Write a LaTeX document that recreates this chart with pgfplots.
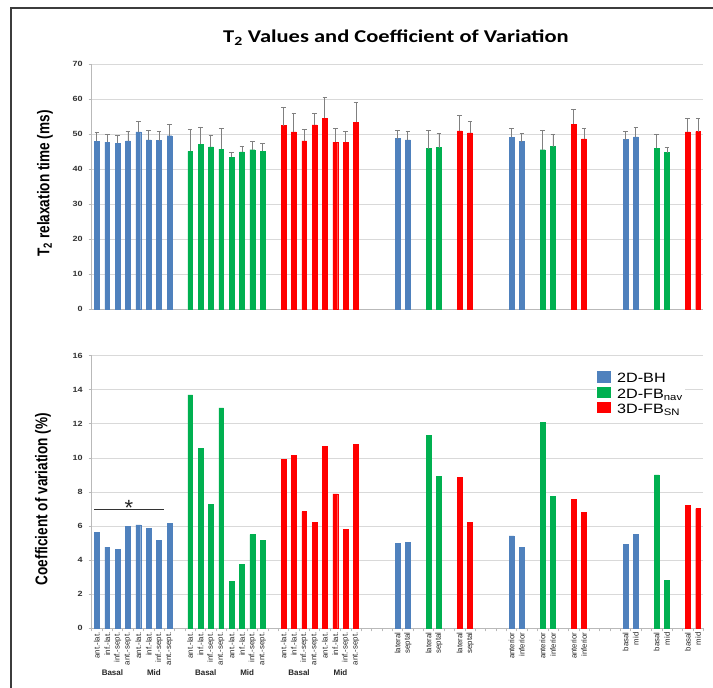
\documentclass[border=0pt]{standalone}
\usepackage{fontspec}
\setmainfont{Liberation Sans}
\newfontfamily\titlefont[FakeStretch=1.25]{Carlito}
\newfontfamily\narrowfont[FakeStretch=0.8]{Liberation Sans}
\newfontfamily\widefont[FakeStretch=1.2]{Liberation Sans}
\usepackage{pgfplots}
\usepackage{pgfplotstable}
\pgfplotsset{compat=1.18}
\definecolor{cblue}{RGB}{79,129,189}
\definecolor{cgreen}{RGB}{0,176,80}
\definecolor{cred}{RGB}{255,0,0}
\definecolor{gridc}{RGB}{217,217,217}
\definecolor{axc}{RGB}{185,185,185}
\definecolor{errc}{RGB}{128,128,128}
\definecolor{framec}{RGB}{60,60,60}

\pgfplotstableread{
x y e
0 47.9 2.6
1 47.7 2.3
2 47.4 2.2
3 48.0 2.8
4 50.6 3.1
5 48.3 2.8
6 48.1 2.5
7 49.5 3.1
29 48.7 2.4
30 48.3 2.4
40 49.0 2.7
41 47.8 2.4
51 48.4 2.4
52 49.2 2.6
}\topblue
\pgfplotstableread{
x y e
9 45.0 6.2
10 47.0 5.0
11 46.3 3.3
12 45.7 5.9
13 43.4 1.2
14 44.9 1.6
15 45.5 2.4
16 45.0 2.3
32 45.8 5.2
33 46.1 4.1
43 45.5 5.5
44 46.4 3.5
54 45.9 4.1
55 44.7 1.4
}\topgreen
\pgfplotstableread{
x y e
18 52.4 5.2
19 50.6 5.3
20 48.0 3.3
21 52.6 3.3
22 54.5 5.8
23 47.7 3.9
24 47.7 2.9
25 53.3 5.8
35 50.9 4.5
36 50.3 3.2
46 52.8 4.1
47 48.6 3.1
57 50.6 3.7
58 50.7 3.6
}\topred
\pgfplotstableread{
x y
0 5.64
1 4.76
2 4.62
3 5.97
4 6.07
5 5.85
6 5.15
7 6.14
29 4.97
30 5.05
40 5.42
41 4.74
51 4.93
52 5.52
}\botblue
\pgfplotstableread{
x y
9 13.70
10 10.57
11 7.28
12 12.94
13 2.74
14 3.76
15 5.50
16 5.15
32 11.31
33 8.92
43 12.07
44 7.75
54 9.00
55 2.82
}\botgreen
\pgfplotstableread{
x y
18 9.90
19 10.16
20 6.85
21 6.20
22 10.69
23 7.89
24 5.79
25 10.78
35 8.86
36 6.20
46 7.57
47 6.79
57 7.22
58 7.03
}\botred

\pgfplotsset{
  common/.style={
    scale only axis,
    width=611.6pt,
    xmin=-0.5, xmax=58.5,
    ybar, bar shift=0pt, bar width=4.8pt,
    axis x line*=bottom, axis y line*=left,
    every outer x axis line/.append style={-},
    every outer y axis line/.append style={-},
    axis line style={axc, line width=0.8pt},
    ymajorgrids, grid style={gridc, line width=0.8pt},
    tick align=outside, major tick length=3pt,
    ytick style={axc, line width=0.8pt},
    /pgf/number format/assume math mode=true,
    yticklabel style={font=\widefont\bfseries\fontsize{7.5}{8}\selectfont, text=black!80, xshift=-2.5pt},
    clip=false,
  },
  errs/.style={
    error bars/.cd, y dir=plus, y explicit,
    error bar style={errc, line width=0.9pt},
    error mark options={errc, rotate=90, mark size=2.3pt, line width=0.9pt},
  },
}

\begin{document}
\begin{tikzpicture}[x=1pt,y=1pt]
\useasboundingbox (0,0) rectangle (713,688);
\fill[white] (0,0) rectangle (713,688);
\draw[framec, line width=1.4pt] (11,0) -- (11,680) -- (713,680);

\node[font=\titlefont\bfseries\fontsize{18}{20}\selectfont] at (396,650.5) {T\textsubscript{2} Values and Coefficient of Variation};

% Top chart
\begin{axis}[common, at={(91.7pt,379pt)}, anchor=south west, height=245pt,
  ymin=0, ymax=70, ytick={0,10,...,70}, xtick=\empty]
\addplot[fill=cblue, draw=cblue, errs] table[x=x, y=y, y error=e] {\topblue};
\addplot[fill=cgreen, draw=cgreen, errs] table[x=x, y=y, y error=e] {\topgreen};
\addplot[fill=cred, draw=cred, errs] table[x=x, y=y, y error=e] {\topred};
\end{axis}

% Bottom chart
\begin{axis}[common, at={(91.7pt,59.7pt)}, anchor=south west, height=272.6pt,
  ymin=0, ymax=16, ytick={0,2,...,16},
  xtick={0,1,2,3,4,5,6,7,9,10,11,12,13,14,15,16,18,19,20,21,22,23,24,25,29,30,32,33,35,36,40,41,43,44,46,47,51,52,54,55,57,58},
  xticklabels={ant.-lat.,inf.-lat.,inf.-sept.,ant.-sept.,ant.-lat.,inf.-lat.,inf.-sept.,ant.-sept.,
    ant.-lat.,inf.-lat.,inf.-sept.,ant.-sept.,ant.-lat.,inf.-lat.,inf.-sept.,ant.-sept.,
    ant.-lat.,inf.-lat.,inf.-sept.,ant.-sept.,ant.-lat.,inf.-lat.,inf.-sept.,ant.-sept.,
    lateral,septal,lateral,septal,lateral,septal,
    anterior,inferior,anterior,inferior,anterior,inferior,
    basal,mid,basal,mid,basal,mid},
  xticklabel style={rotate=90, anchor=east, font=\fontsize{7.8}{8}\selectfont, text=black!85, inner sep=1pt},
  major x tick style={draw=none},
  minor xtick={-0.5,0.5,...,58.5},
  minor x tick style={axc, line width=0.6pt},
  minor tick length=3pt,
  legend style={at={(0.8246,0.9475)}, anchor=north west, draw=none, fill=white,
    font=\widefont\fontsize{13.5}{13.5}\selectfont, row sep=0pt, inner sep=1pt,
    nodes={text height=9.5pt, text depth=2.8pt, inner sep=1pt},
    /tikz/every odd column/.append style={column sep=6pt}},
  legend cell align=left,
]
\addplot[fill=cblue, draw=cblue, legend image code/.code={\fill[cblue] (0pt,-2.5pt) rectangle (12.5pt,8pt);}] table[x=x, y=y] {\botblue};
\addlegendentry{2D-BH}
\addplot[fill=cgreen, draw=cgreen, legend image code/.code={\fill[cgreen] (0pt,-2.5pt) rectangle (12.5pt,8pt);}] table[x=x, y=y] {\botgreen};
\addlegendentry{2D-FB\textsubscript{nav}}
\addplot[fill=cred, draw=cred, legend image code/.code={\fill[cred] (0pt,-2.5pt) rectangle (12.5pt,8pt);}] table[x=x, y=y] {\botred};
\addlegendentry{3D-FB\textsubscript{SN}}
\draw[black!80, line width=0.8pt] (axis cs:-0.25,6.95) -- (axis cs:6.5,6.95);
\node[font=\fontsize{22}{22}\selectfont, text=black!85, yshift=-3pt] at (axis cs:3.1,7.25) {*};
\node[font=\bfseries\fontsize{8}{8}\selectfont, text=black!85, yshift=-44.4pt] at (axis cs:1.5,0) {Basal};
\node[font=\bfseries\fontsize{8}{8}\selectfont, text=black!85, yshift=-44.4pt] at (axis cs:5.5,0) {Mid};
\node[font=\bfseries\fontsize{8}{8}\selectfont, text=black!85, yshift=-44.4pt] at (axis cs:10.5,0) {Basal};
\node[font=\bfseries\fontsize{8}{8}\selectfont, text=black!85, yshift=-44.4pt] at (axis cs:14.5,0) {Mid};
\node[font=\bfseries\fontsize{8}{8}\selectfont, text=black!85, yshift=-44.4pt] at (axis cs:19.5,0) {Basal};
\node[font=\bfseries\fontsize{8}{8}\selectfont, text=black!85, yshift=-44.4pt] at (axis cs:23.5,0) {Mid};
\end{axis}

\node[rotate=90, font=\narrowfont\bfseries\fontsize{17}{18}\selectfont] at (45,504.5) {T\textsubscript{2} relaxation time (ms)};
\node[rotate=90, font=\narrowfont\bfseries\fontsize{17}{18}\selectfont] at (43,189) {Coefficient of variation (\%)};
\end{tikzpicture}
\end{document}
